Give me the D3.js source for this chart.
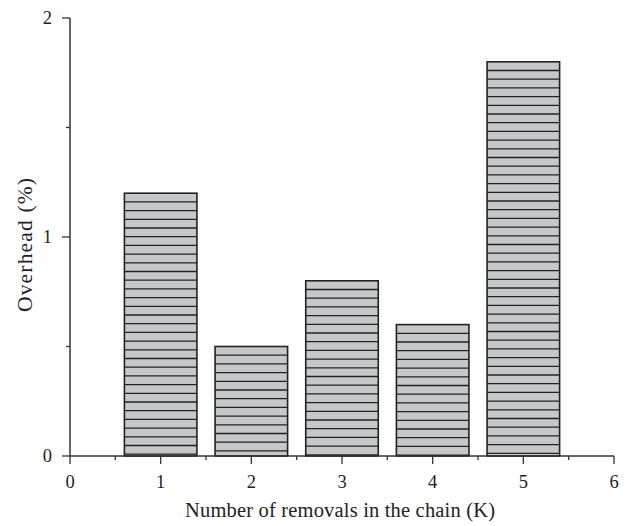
<!DOCTYPE html>
<html><head><meta charset="utf-8">
<script src="https://cdn.jsdelivr.net/npm/d3@7"></script>
<style>body{margin:0;background:#fff}svg{display:block}text{font-family:"Liberation Serif","Times New Roman",serif;fill:#222}</style>
</head><body>
<svg id="c" width="634" height="526"></svg>
<script>
const categories = [1, 2, 3, 4, 5];
const overhead = [1.2, 0.5, 0.8, 0.6, 1.8];
const xTicks = [0, 1, 2, 3, 4, 5, 6];
const yTicks = [0, 1, 2];
const xTitle = "Number of removals in the chain (K)";
const yTitle = "Overhead (%)";

const svg = d3.select("#c");
const x = d3.scaleLinear().domain([0, 6]).range([70, 614]);
const y = d3.scaleLinear().domain([0, 2]).range([456, 18]);
const barW = 0.8;
const axisCol = "#333";

// bars
const g = svg.append("g");
categories.forEach((c, i) => {
  const x0 = x(c - barW / 2), x1 = x(c + barW / 2);
  const yt = y(overhead[i]), yb = y(0);
  g.append("rect").attr("x", x0).attr("y", yt).attr("width", x1 - x0).attr("height", yb - yt)
    .attr("fill", "#c6c7c9");
  d3.range(yt + 8.7, yb, 8.7).forEach(ly => {
    g.append("line").attr("x1", x0).attr("x2", x1).attr("y1", ly).attr("y2", ly)
      .attr("stroke", "#222").attr("stroke-width", 1.3);
  });
  g.append("rect").attr("x", x0).attr("y", yt).attr("width", x1 - x0).attr("height", yb - yt)
    .attr("fill", "none").attr("stroke", "#222").attr("stroke-width", 1.6);
});

// x axis
const xa = svg.append("g").attr("transform", "translate(0,456)");
xa.append("line").attr("x1", x(0)).attr("x2", x(6)).attr("stroke", axisCol).attr("stroke-width", 1.5);
d3.range(0, 6.01, 0.5).forEach(v => {
  const major = Number.isInteger(v);
  xa.append("line").attr("x1", x(v)).attr("x2", x(v)).attr("y1", 0).attr("y2", major ? 8 : 4)
    .attr("stroke", axisCol).attr("stroke-width", 1.3);
});
xTicks.forEach(v => {
  xa.append("text").attr("x", x(v)).attr("y", 32).attr("text-anchor", "middle")
    .attr("font-size", 18.5).text(v);
});
svg.append("text").attr("x", 340).attr("y", 517).attr("text-anchor", "middle")
  .attr("font-size", 20.5).attr("textLength", 310).attr("lengthAdjust", "spacing").text(xTitle);

// y axis
const ya = svg.append("g").attr("transform", "translate(70,0)");
ya.append("line").attr("y1", y(0)).attr("y2", y(2)).attr("stroke", axisCol).attr("stroke-width", 1.5);
d3.range(0, 2.01, 0.5).forEach(v => {
  const major = Number.isInteger(v);
  ya.append("line").attr("y1", y(v)).attr("y2", y(v)).attr("x1", 0).attr("x2", major ? -8 : -4)
    .attr("stroke", axisCol).attr("stroke-width", 1.3);
});
yTicks.forEach(v => {
  ya.append("text").attr("x", -18).attr("y", y(v)).attr("dy", "0.35em").attr("text-anchor", "end")
    .attr("font-size", 18.5).text(v);
});
svg.append("text").attr("transform", `translate(32,245) rotate(-90)`).attr("text-anchor", "middle")
  .attr("font-size", 21.5).attr("textLength", 134).attr("lengthAdjust", "spacing").text(yTitle);
</script>
</body></html>
